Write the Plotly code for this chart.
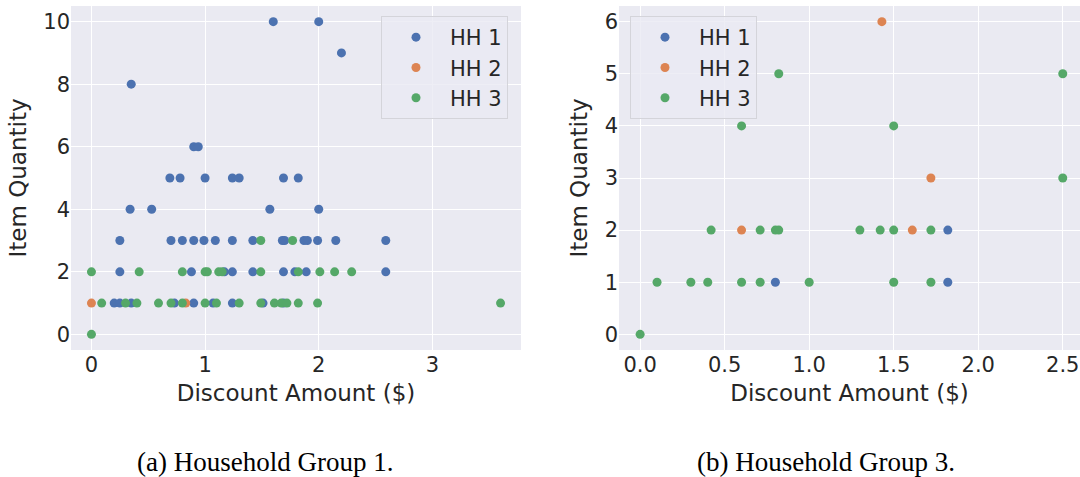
import plotly.graph_objects as go

# ---- Household Group 1: discount amount vs item quantity ----
g1_hh1_x = [1.60, 2.00, 2.20, 0.35, 0.90, 0.94,
            0.69, 0.78, 1.00, 1.24, 1.30, 1.69, 1.82,
            0.34, 0.53, 1.57, 2.00,
            0.25, 0.70, 0.80, 0.90, 0.99, 1.09, 1.24, 1.42, 1.68, 1.70, 1.87, 1.90, 1.99, 2.15, 2.59,
            0.25, 0.88, 1.17, 1.24, 1.42, 1.69, 1.79, 1.89, 2.59,
            0.20, 0.25, 0.35, 0.73, 0.90, 1.07, 1.24, 1.51, 1.69]
g1_hh1_y = [10, 10, 9, 8, 6, 6,
            5, 5, 5, 5, 5, 5, 5,
            4, 4, 4, 4,
            3, 3, 3, 3, 3, 3, 3, 3, 3, 3, 3, 3, 3, 3, 3,
            2, 2, 2, 2, 2, 2, 2, 2, 2,
            1, 1, 1, 1, 1, 1, 1, 1, 1]

g1_hh2_x = [0.00, 0.83]
g1_hh2_y = [1, 1]

g1_hh3_x = [1.49, 1.77,
            0.00, 0.42, 0.80, 1.00, 1.02, 1.12, 1.15, 1.49, 1.82, 2.01, 2.14, 2.29,
            0.09, 0.30, 0.40, 0.59, 0.70, 0.80, 1.00, 1.10, 1.30, 1.49, 1.61, 1.67, 1.72, 1.82, 1.99, 3.60,
            0.00]
g1_hh3_y = [3, 3,
            2, 2, 2, 2, 2, 2, 2, 2, 2, 2, 2, 2,
            1, 1, 1, 1, 1, 1, 1, 1, 1, 1, 1, 1, 1, 1, 1, 1,
            0]

# ---- Household Group 3 ----
g3_hh1_x = [0.80, 1.82, 1.82]
g3_hh1_y = [1, 2, 1]

g3_hh2_x = [0.60, 1.43, 1.72, 1.61]
g3_hh2_y = [2, 6, 3, 2]

g3_hh3_x = [0.00, 0.10, 0.30, 0.40, 0.60, 0.71, 1.00, 1.50, 1.72,
            0.42, 0.71, 0.80, 0.82, 1.30, 1.42, 1.50, 1.72,
            2.50, 0.60, 1.50, 0.82, 2.50]
g3_hh3_y = [0, 1, 1, 1, 1, 1, 1, 1, 1,
            2, 2, 2, 2, 2, 2, 2, 2,
            3, 4, 4, 5, 5]

series_names = ["HH 1", "HH 2", "HH 3"]
colors = ["#4C72B0", "#DD8452", "#55A868"]

x_title = "Discount Amount ($)"
y_title = "Item Quantity"
captions = ["(a) Household Group 1.", "(b) Household Group 3."]

W, H = 1080, 477
TICK_FONT = dict(family="DejaVu Sans", size=21, color="#262626")
TITLE_FONT = dict(family="DejaVu Sans", size=23, color="#262626")
LEGEND_FONT = dict(family="DejaVu Sans", size=21, color="#262626")

fig = go.Figure()

panels = [
    ("x", "y", "legend", [(g1_hh1_x, g1_hh1_y), (g1_hh2_x, g1_hh2_y), (g1_hh3_x, g1_hh3_y)]),
    ("x2", "y2", "legend2", [(g3_hh1_x, g3_hh1_y), (g3_hh2_x, g3_hh2_y), (g3_hh3_x, g3_hh3_y)]),
]
for xa, ya, lg, data in panels:
    for name, color, (xs, ys) in zip(series_names, colors, data):
        fig.add_trace(go.Scatter(
            x=xs, y=ys, mode="markers", name=name,
            marker=dict(color=color, size=9, line=dict(width=0)),
            xaxis=xa, yaxis=ya, legend=lg,
        ))

ydom = [1 - 350 / H, 1 - 6 / H]
axis_common = dict(
    showgrid=True, gridcolor="white", gridwidth=1.3,
    zeroline=False, showline=False, ticks="",
    tickfont=TICK_FONT, title_font=TITLE_FONT,
)
legend_common = dict(
    xanchor="left", yanchor="top",
    bgcolor="rgba(234,234,242,0.8)", bordercolor="#d4d4da", borderwidth=1,
    font=LEGEND_FONT, itemwidth=58, tracegroupgap=0,
)

fig.update_layout(
    width=W, height=H,
    margin=dict(l=0, r=0, t=0, b=0),
    paper_bgcolor="white", plot_bgcolor="#EAEAF2",
    xaxis=dict(domain=[71 / W, 521 / W], range=[-0.18, 3.78], tickvals=[0, 1, 2, 3],
               title=dict(text=x_title, standoff=8), anchor="y", **axis_common),
    yaxis=dict(domain=ydom, range=[-0.5, 10.5], tickvals=[0, 2, 4, 6, 8, 10],
               title=dict(text=y_title, standoff=10), anchor="x", **axis_common),
    xaxis2=dict(domain=[619 / W, 1.0], range=[-0.125, 2.602],
                tickvals=[0, 0.5, 1.0, 1.5, 2.0, 2.5], tickformat=".1f",
                title=dict(text=x_title, standoff=8), anchor="y2", **axis_common),
    yaxis2=dict(domain=ydom, range=[-0.3, 6.3], tickvals=[0, 1, 2, 3, 4, 5, 6],
                title=dict(text=y_title, standoff=10), anchor="x2", **axis_common),
    legend=dict(x=381 / W, y=1 - 16 / H, **legend_common),
    legend2=dict(x=630 / W, y=1 - 16 / H, **legend_common),
    showlegend=True,
)

for cx, text in zip([265 / W, 826 / W], captions):
    fig.add_annotation(x=cx, y=1 - 462 / H, xref="paper", yref="paper",
                       xanchor="center", yanchor="middle", showarrow=False,
                       text=text, font=dict(family="Liberation Serif", size=27, color="black"))

fig.write_html("out.html")
